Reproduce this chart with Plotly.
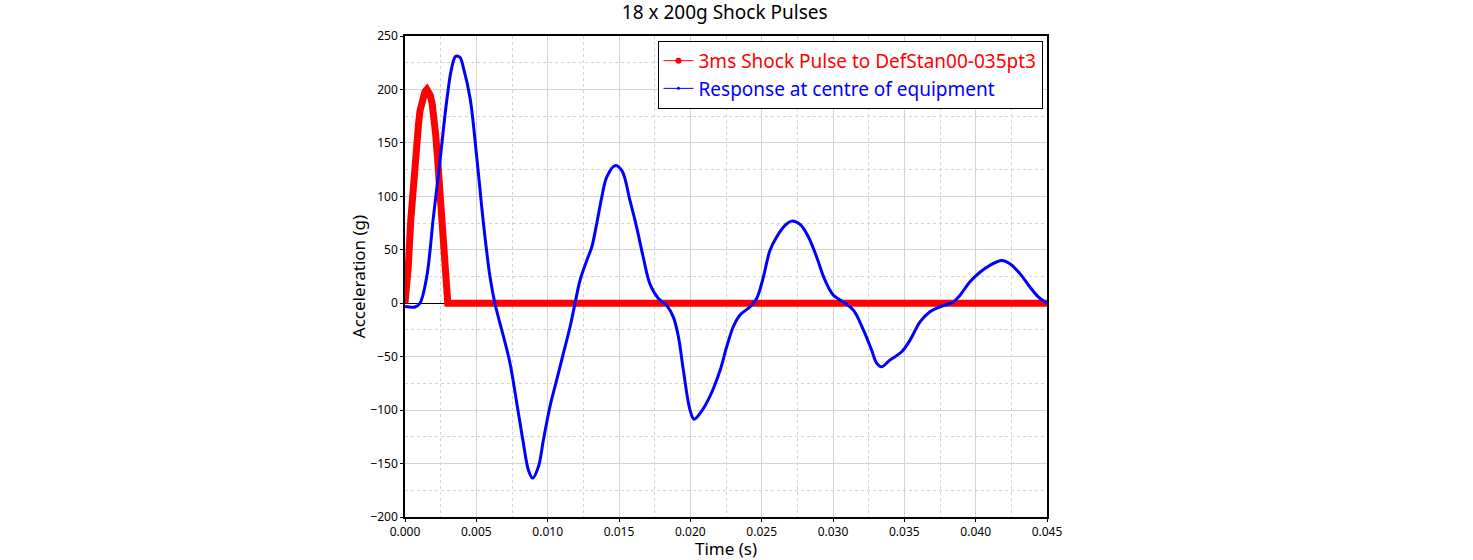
"""
18 x 200g shock pulse vs. measured response at centre of equipment.
"""

import plotly.graph_objects as go

# 3ms half-sine input pulse
pulse_t = [0.0, 0.00012, 0.00023, 0.0004, 0.00058, 0.0007, 0.00082, 0.00095,
           0.00105, 0.00118, 0.00128, 0.0014, 0.00153, 0.00166, 0.00178, 0.0019,
           0.00202, 0.00215, 0.00228, 0.00241, 0.00254, 0.00266, 0.00278, 0.0029,
           0.0030, 0.0100, 0.0200, 0.0300, 0.0400, 0.0450]
pulse_g = [0, 17, 34, 77, 115, 135, 152, 168,
           180, 189, 194, 198, 200, 198, 194, 187,
           176, 158, 136, 110, 83, 58, 34, 12,
           0, 0, 0, 0, 0, 0]

# response at centre of equipment
resp_t = [0.0, 0.0007, 0.00105, 0.00152, 0.00199, 0.00245, 0.00292, 0.00327,
          0.00355, 0.00385, 0.0041, 0.00456, 0.00503, 0.0055, 0.00596, 0.0063,
          0.0069, 0.00736, 0.00783, 0.0083, 0.00865, 0.00895, 0.00935, 0.0097,
          0.01016, 0.01063, 0.0111, 0.01157, 0.01192, 0.01227, 0.01274, 0.01309,
          0.01344, 0.01379, 0.01414, 0.01472, 0.0152, 0.01577, 0.01624, 0.0167,
          0.01717, 0.01776, 0.01834, 0.01881, 0.01916, 0.01951, 0.01998, 0.02026,
          0.02079, 0.02138, 0.02208, 0.02255, 0.02301, 0.02348, 0.02418, 0.02465,
          0.02512, 0.02558, 0.02605, 0.02664, 0.0271, 0.02769, 0.02828, 0.02886,
          0.02944, 0.03003, 0.03073, 0.03143, 0.03213, 0.03271, 0.03306, 0.03341,
          0.034, 0.03482, 0.0354, 0.0361, 0.0368, 0.0375, 0.03843, 0.0389,
          0.0396, 0.0403, 0.041, 0.04182, 0.0424, 0.0431, 0.0438, 0.04439, 0.045]
resp_g = [-3, -3.5, 0, 24.5, 80.5, 133, 189, 220,
          231, 230, 220, 192, 136.5, 74.6, 24.5, 0,
          -31, -56, -93, -131, -156, -163.6, -153, -128,
          -96.7, -72, -47, -22, 0, 21.5, 40, 52.5,
          74.6, 99, 118, 128.7, 124, 96, 71, 43,
          18, 4.4, -2, -13, -31, -62.5, -100, -108.5,
          -101, -87, -63, -40.7, -22, -11, -3.4, 4.4,
          24.5, 49.4, 62, 72.8, 76.8, 73.7, 62, 43,
          21.5, 7.5, 1.2, -6.5, -25, -44, -56, -59.4,
          -53, -45.4, -34.5, -17.4, -8, -3.4, 1.2, 7.5,
          20, 29, 35.4, 40, 37, 27.7, 15.2, 6, 0]

PULSE_NAME = "3ms Shock Pulse to DefStan00-035pt3"
RESP_NAME = "Response at centre of equipment"

fig = go.Figure()

fig.add_trace(go.Scatter(x=pulse_t, y=pulse_g, mode="lines", showlegend=False,
                         line=dict(color="#ff0000", width=7), name=PULSE_NAME))
fig.add_trace(go.Scatter(x=resp_t, y=resp_g, mode="lines", showlegend=False,
                         line=dict(color="#0000ff", width=3, shape="spline", smoothing=1.0),
                         name=RESP_NAME))

# thin legend entries (line + dot) like the original plotting tool
fig.add_trace(go.Scatter(x=[None], y=[None], mode="lines+markers",
                         line=dict(color="#ff0000", width=1), marker=dict(color="#ff0000", size=6),
                         name="<span style='color:#ff0000'>" + PULSE_NAME + "</span>"))
fig.add_trace(go.Scatter(x=[None], y=[None], mode="lines+markers",
                         line=dict(color="#0000ff", width=1), marker=dict(color="#0000ff", size=3),
                         name="<span style='color:#0000ff'>" + RESP_NAME + "</span>"))

fig.update_layout(
    width=1473, height=560,
    margin=dict(l=405, r=426, t=36, b=43),
    paper_bgcolor="white", plot_bgcolor="white",
    font=dict(family="Noto Sans", color="black"),
    title=dict(text="18 x 200g Shock Pulses", x=0.492, xanchor="center",
               y=0.99, yanchor="top", font=dict(size=19)),
    legend=dict(x=0.993, y=0.99, xanchor="right", yanchor="top",
                bgcolor="white", bordercolor="black", borderwidth=1,
                font=dict(size=19), tracegroupgap=0),
    showlegend=True,
)

fig.update_xaxes(
    range=[0, 0.045], dtick=0.005, tick0=0, tickformat=".3f", automargin=False,
    title=dict(text="Time (s)", font=dict(size=17), standoff=0),
    tickfont=dict(size=12), ticks="outside", ticklen=3, tickcolor="black",
    showline=True, linecolor="black", linewidth=1.5, mirror=True,
    showgrid=True, gridcolor="#d3d3d3", gridwidth=1, zeroline=False,
    minor=dict(dtick=0.0025, showgrid=True, gridcolor="#d3d3d3", griddash="dot", gridwidth=1),
)
fig.update_yaxes(
    range=[-200, 250], dtick=50, tick0=0, automargin=False,
    title=dict(text="Acceleration (g)", font=dict(size=17), standoff=0),
    tickfont=dict(size=12), ticks="outside", ticklen=3, tickcolor="black",
    showline=True, linecolor="black", linewidth=1.5, mirror=True,
    showgrid=True, gridcolor="#d3d3d3", gridwidth=1,
    zeroline=True, zerolinecolor="black", zerolinewidth=1,
    minor=dict(dtick=25, showgrid=True, gridcolor="#d3d3d3", griddash="dot", gridwidth=1),
)

# page body has a default 8px margin; drop it so the figure sits at the window corner
fig.write_html("out.html", config={"displayModeBar": False},
               post_script="document.body.style.margin='0';")
